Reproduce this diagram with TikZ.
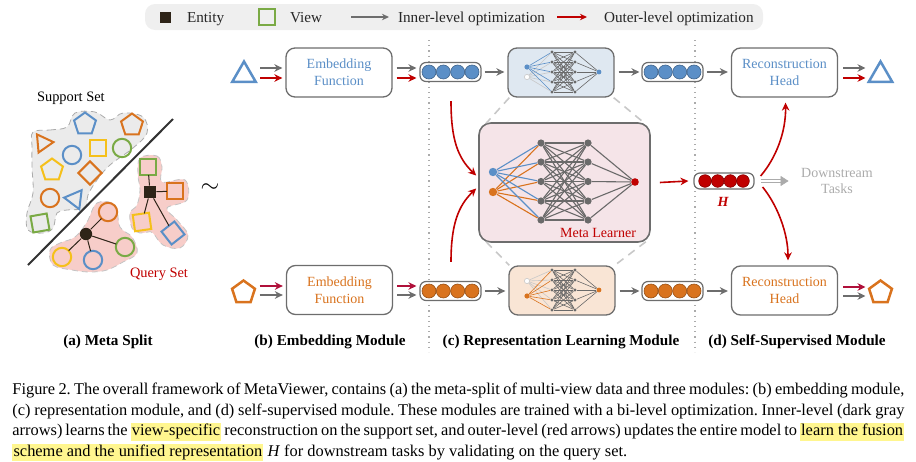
\documentclass[tikz,border=0pt]{standalone}
\usepackage{fontspec}
\setmainfont{Liberation Serif}
\usetikzlibrary{shapes.geometric,arrows.meta,calc}
\definecolor{cblue}{HTML}{5B8FC7}
\definecolor{corange}{HTML}{D9731E}
\definecolor{cgreen}{HTML}{7AAA45}
\definecolor{cyellow}{HTML}{F5C01A}
\definecolor{cred}{HTML}{C00000}
\definecolor{cred2}{HTML}{B0103A}
\definecolor{cgray}{HTML}{6D6D6D}
\definecolor{netgray}{HTML}{6A6A6A}
\definecolor{cdark}{HTML}{2E2418}
\definecolor{legbg}{HTML}{EFEFEF}
\definecolor{blobgray}{HTML}{EBEBEB}
\definecolor{blobpink}{HTML}{F7CDC9}
\definecolor{mlbg}{HTML}{F5E4E8}
\definecolor{topbg}{HTML}{DFE8F1}
\definecolor{botbg}{HTML}{F9E5D5}
\definecolor{hly}{HTML}{FFF68F}
\definecolor{lgray}{HTML}{ABABAB}
\definecolor{ghost}{HTML}{C8C8C8}
\newcommand\nodefont{\fontsize{7}{8.4}\selectfont}
\newcommand\legfont{\fontsize{7.6}{9}\selectfont}
\newcommand\labfont{\fontsize{7.6}{9}\selectfont\bfseries}
\newcommand\capfont{\fontsize{8.2}{10.35}\selectfont}
\newcommand\hlbox[1]{{\setlength{\fboxsep}{0.6pt}\colorbox{hly}{\vphantom{Ay}#1}}}
\tikzset{
 box/.style={draw=cgray, line width=0.65pt, rounded corners=4.5pt, fill=white, minimum width=53pt, minimum height=24.5pt, align=center, font=\nodefont, inner sep=1pt},
 vecbox/.style={draw=cgray, line width=0.6pt, rounded corners=3pt, fill=white, minimum width=30.5pt, minimum height=9.5pt, inner sep=0pt},
 vdot/.style={circle, inner sep=0pt, minimum size=7pt, line width=0.3pt},
 garr/.style={draw=cgray, line width=0.8pt, -{Stealth[length=4pt,width=3.8pt]}},
 rarr/.style={draw=cred, line width=0.8pt, -{Stealth[length=4pt,width=3.8pt]}},
 rarrb/.style={draw=cred2, line width=0.8pt, -{Stealth[length=4pt,width=3.8pt]}},
 shp/.style={line width=1pt, inner sep=0pt, outer sep=0pt},
 circ/.style={shp, circle, minimum size=9.2pt},
 sq/.style={shp, rectangle, minimum size=8.2pt},
 pent/.style={shp, regular polygon, regular polygon sides=5, minimum size=11.5pt},
 trig/.style={shp, regular polygon, regular polygon sides=3, minimum size=11pt},
 blob/.style={draw=lgray, densely dashed, line width=0.4pt},
 hid/.style={circle, inner sep=0pt, minimum size=3.6pt, fill=netgray},
 sdot/.style={circle, inner sep=0pt, minimum size=1.6pt, fill=netgray},
 medge/.style={line width=0.55pt},
 sedge/.style={line width=0.3pt},
 link/.style={draw=cdark, line width=0.5pt},
 conn/.style={draw=ghost, line width=0.8pt, dash pattern=on 4pt off 3pt},
}
\begin{document}
\begin{tikzpicture}[x=0.5pt,y=-0.5pt]
\useasboundingbox (0,0) rectangle (916,461);

% ---------- legend ----------
\node[fill=legbg, rounded corners=5pt, minimum width=309pt, minimum height=13pt, inner sep=0pt] (leg) at (454,17) {};
\node[fill=cdark, minimum size=5.5pt, inner sep=0pt] (lent) at (165.5,17.5) {};
\node[anchor=base west, font=\legfont, text=black!85] (lentt) at (180,22) {Entity};
\node[draw=cgreen, line width=1pt, minimum size=8pt, inner sep=0pt] (lview) at (267,17) {};
\node[anchor=base west, font=\legfont, text=black!85] (lviewt) at (283,22) {View};
\coordinate (li1) at (351,17); \coordinate (li2) at (389,17);
\draw[cgray, line width=0.6pt, -{Stealth[length=3.5pt,width=3.2pt]}] (li1) -- (li2);
\node[anchor=base west, font=\legfont, text=black!85] (linn) at (391,22) {Inner-level optimization};
\coordinate (lo1) at (557,17); \coordinate (lo2) at (587,17);
\draw[cred, line width=0.6pt, -{Stealth[length=3.5pt,width=3.2pt]}] (lo1) -- (lo2);
\node[anchor=base west, font=\legfont, text=black!85] (lout) at (597,22) {Outer-level optimization};

% ---------- dotted separators ----------
\coordinate (d1a) at (429,40); \coordinate (d1b) at (429,352);
\coordinate (d2a) at (695,40); \coordinate (d2b) at (695,352);
\draw[lgray, dotted, line width=0.6pt] (d1a) -- (d1b);
\draw[lgray, dotted, line width=0.6pt] (d2a) -- (d2b);

% ---------- (a) meta split ----------
\node[anchor=base west, font=\fontsize{7.2}{8.6}\selectfont] (supp) at (30,101) {Support Set};
\fill[blobgray] plot[smooth cycle, tension=0.6] coordinates {(33,132) (50,130) (67,127) (75,113) (95,112) (110,120) (123,113) (143,117) (147,133) (133,148) (110,165) (97,180) (88,195) (85,208) (67,210) (57,213) (53,228) (43,233) (28,230) (27,213) (33,193) (32,167) (32,147)};
\draw[blob] plot[smooth cycle, tension=0.6] coordinates {(33,132) (50,130) (67,127) (75,113) (95,112) (110,120) (123,113) (143,117) (147,133) (133,148) (110,165) (97,180) (88,195) (85,208) (67,210) (57,213) (53,228) (43,233) (28,230) (27,213) (33,193) (32,167) (32,147)};
\fill[blobpink] plot[smooth cycle, tension=0.6] coordinates {(140,158) (157,156) (162,167) (162,182) (185,180) (187,200) (167,208) (177,220) (188,235) (180,248) (163,245) (153,233) (148,232) (140,233) (132,228) (130,213) (137,205) (140,190) (138,175)};
\draw[blob, draw=lgray!70] plot[smooth cycle, tension=0.6] coordinates {(140,158) (157,156) (162,167) (162,182) (185,180) (187,200) (167,208) (177,220) (188,235) (180,248) (163,245) (153,233) (148,232) (140,233) (132,228) (130,213) (137,205) (140,190) (138,175)};
\fill[blobpink] plot[smooth cycle, tension=0.6] coordinates {(97,203) (115,205) (120,227) (132,237) (137,253) (123,262) (107,270) (90,272) (72,270) (53,265) (50,250) (60,243) (75,237) (87,222)};
\draw[blob, draw=lgray!70] plot[smooth cycle, tension=0.6] coordinates {(97,203) (115,205) (120,227) (132,237) (137,253) (123,262) (107,270) (90,272) (72,270) (53,265) (50,250) (60,243) (75,237) (87,222)};

\node[pent, draw=cblue] (g1) at (85,124) {};
\node[pent, draw=corange] (g2) at (132,125) {};
\node[trig, draw=corange, rotate=-85, minimum size=10.5pt] (g3) at (43,143) {};
\node[circ, draw=cblue] (g4) at (72,155) {};
\node[sq, draw=cyellow] (g5) at (98,148) {};
\node[circ, draw=cgreen] (g6) at (122,148) {};
\node[pent, draw=cyellow] (g7) at (52,170) {};
\node[sq, draw=corange, rotate=45] (g8) at (90,173) {};
\node[circ, draw=corange] (g9) at (50,198) {};
\node[trig, draw=cblue, rotate=-37] (g10) at (75,199) {};
\node[sq, draw=cgreen, rotate=10] (g11) at (40,223) {};

\coordinate (dg1) at (173,119); \coordinate (dg2) at (28,265);
\draw[black!80, line width=1pt] (dg1) -- (dg2);

\node[fill=cdark, minimum size=6pt, inner sep=0pt] (e1) at (150,192) {};
\node[sq, draw=cgreen] (q1) at (148,167) {};
\node[sq, draw=corange] (q2) at (175,191) {};
\node[sq, draw=cyellow, rotate=8] (q3) at (142,222) {};
\node[sq, draw=cblue, rotate=38] (q4) at (173,233) {};
\draw[link] (e1) -- (q1); \draw[link] (e1) -- (q2); \draw[link] (e1) -- (q3); \draw[link] (e1) -- (q4);

\node[circle, fill=cdark, minimum size=6.2pt, inner sep=0pt] (e2) at (86,234) {};
\node[circ, draw=corange] (r1) at (108,212) {};
\node[circ, draw=cgreen] (r2) at (125,247) {};
\node[circ, draw=cyellow] (r3) at (62,257) {};
\node[circ, draw=cblue] (r4) at (93,260) {};
\draw[link] (e2) -- (r1); \draw[link] (e2) -- (r2); \draw[link] (e2) -- (r3); \draw[link] (e2) -- (r4);

\node[font=\fontsize{7.2}{8.6}\selectfont, text=cred, anchor=base] (qs) at (159,277) {Query Set};
\node[font=\fontsize{12}{14}\selectfont] (tilde) at (210,188) {$\sim$};

% ---------- inputs ----------
\node[trig, draw=cblue, line width=1.25pt, minimum size=13.5pt] (tri1) at (244,75) {};
\node[pent, draw=corange, line width=1.25pt, minimum size=12pt] (pen1) at (243.5,292.5) {};

% ---------- (b) embedding ----------
\node[box, text=cblue] (emb1) at (339,72.5) {Embedding\\Function};
\node[box, text=corange] (emb2) at (339.5,290) {Embedding\\Function};

\draw[garr] ($(tri1)+(16,-7)$) -- ($(emb1.west)+(-3,-4.5)$);
\draw[rarr] ($(tri1)+(16,3)$) -- ($(emb1.west)+(-3,5.5)$);
\draw[rarrb] ($(pen1)+(16,-6.5)$) -- ($(emb2.west)+(-3,-4)$);
\draw[garr] ($(pen1)+(16,2.5)$) -- ($(emb2.west)+(-3,5)$);

% ---------- vectors ----------
\node[vecbox] (v1) at (450.5,72) {};
\node[vecbox] (v2) at (450.5,291) {};
\node[vecbox] (v3) at (672.5,72) {};
\node[vecbox] (v4) at (672.5,291) {};
\foreach \d in {-21.5,-7.2,7.2,21.5} {
  \node[vdot, fill=cblue, draw=cblue!70!black] at ($(v1)+(\d,0)$) {};
  \node[vdot, fill=corange, draw=corange!70!black] at ($(v2)+(\d,0)$) {};
  \node[vdot, fill=cblue, draw=cblue!70!black] at ($(v3)+(\d,0)$) {};
  \node[vdot, fill=corange, draw=corange!70!black] at ($(v4)+(\d,0)$) {};
}
\draw[garr] ($(emb1.east)+(4,-4.5)$) -- ($(v1.west)+(-3,-4)$);
\draw[rarr] ($(emb1.east)+(4,5.5)$) -- ($(v1.west)+(-3,6)$);
\draw[rarrb] ($(emb2.east)+(4,-4)$) -- ($(v2.west)+(-3,-5)$);
\draw[garr] ($(emb2.east)+(4,5)$) -- ($(v2.west)+(-3,4)$);

% ---------- small nets ----------
\node[box, fill=topbg] (netT) at (561,72.5) {};
\node[box, fill=botbg] (netB) at (562,290.5) {};

% top net
\node[circle, inner sep=0pt, minimum size=2.6pt, fill=cblue] (tin) at (527,67) {};
\node[circle, inner sep=0pt, minimum size=2.6pt, draw=ghost, line width=0.3pt, fill=white] (tgh) at (527,77) {};
\node[circle, inner sep=0pt, minimum size=2.4pt, fill=cblue] (tout) at (599,72) {};
\foreach \i/\y in {1/52,2/62,3/72,4/82,5/92} {
  \node[sdot] (ta\i) at (552,\y) {};
  \node[sdot] (tb\i) at (575,\y) {};
}
\foreach \i in {1,...,5} {
  \draw[sedge, ghost] (tgh) -- (ta\i);
}
\foreach \i in {1,...,5} {
  \draw[sedge, cblue] (tin) -- (ta\i);
  \draw[sedge, netgray] (tb\i) -- (tout);
  \foreach \j in {1,...,5} \draw[sedge, netgray] (ta\i) -- (tb\j);
}
% bottom net
\node[circle, inner sep=0pt, minimum size=2.6pt, draw=ghost, line width=0.3pt, fill=white] (bgh) at (527,281) {};
\node[circle, inner sep=0pt, minimum size=2.6pt, fill=corange] (bin) at (527,296) {};
\node[circle, inner sep=0pt, minimum size=2.4pt, fill=corange] (bout) at (599,290) {};
\foreach \i/\y in {1/270,2/280,3/290,4/300,5/310} {
  \node[sdot] (ba\i) at (552,\y) {};
  \node[sdot] (bb\i) at (575,\y) {};
}
\foreach \i in {1,...,5} {
  \draw[sedge, ghost] (bgh) -- (ba\i);
}
\foreach \i in {1,...,5} {
  \draw[sedge, corange] (bin) -- (ba\i);
  \draw[sedge, netgray] (bb\i) -- (bout);
  \foreach \j in {1,...,5} \draw[sedge, netgray] (ba\i) -- (bb\j);
}

\draw[garr] ($(v1.east)+(3,0)$) -- ($(netT.west)+(-3,-0.5)$);
\draw[garr] ($(netT.east)+(4,-0.5)$) -- ($(v3.west)+(-2,0)$);
\draw[garr] ($(v2.east)+(3,0)$) -- ($(netB.west)+(-3,0.5)$);
\draw[garr] ($(netB.east)+(4,0.5)$) -- ($(v4.west)+(-2,0)$);

% ---------- meta learner ----------
\node[draw=cgray, line width=0.8pt, rounded corners=6pt, fill=mlbg, minimum width=85.5pt, minimum height=59.5pt, inner sep=0pt] (ml) at (564.5,182.5) {};
\node[font=\nodefont, text=cred, anchor=base east] (mlt) at (643,237) {Meta Learner};

\draw[conn] ($(netT.south west)+(2,0)$) -- ($(ml.north west)+(8,1)$);
\draw[conn] ($(netT.south east)+(-1,0)$) -- ($(ml.north east)+(-5,2)$);
\draw[conn] ($(ml.south west)+(8,-1)$) -- ($(netB.north west)+(1,0)$);
\draw[conn] ($(ml.south east)+(-5,-1)$) -- ($(netB.north east)+(-1,0)$);

\node[circle, inner sep=0pt, minimum size=4.2pt, fill=cblue] (inb) at (493,172) {};
\node[circle, inner sep=0pt, minimum size=4.2pt, fill=corange] (ino) at (493,192) {};
\node[circle, inner sep=0pt, minimum size=3.8pt, fill=cred] (mout) at (635,182) {};
\foreach \i/\y in {1/143,2/162,3/181.5,4/201,5/220} {
  \node[hid] (ha\i) at (541,\y) {};
  \node[hid] (hb\i) at (588,\y) {};
}
\foreach \i in {1,...,5} {
  \draw[medge, netgray] (hb\i) -- (mout);
  \foreach \j in {1,...,5} \draw[medge, netgray] (ha\i) -- (hb\j);
}
\foreach \i in {1,...,5} {
  \draw[medge, cblue] (inb) -- (ha\i);
  \draw[medge, corange] (ino) -- (ha\i);
}

% red curved arrows into meta learner
\coordinate (c1) at ($(v1.south)+(0.5,19)$);
\coordinate (c2) at ($(v2.north)+(0.5,-19)$);
\draw[rarr] (c1) .. controls (451,140) and (458,158) .. ($(ml.west)+(-2,-7)$);
\draw[rarr] (c2) .. controls (451,225) and (458,206) .. ($(ml.west)+(-2,6)$);

% ---------- H ----------
\node[vecbox, minimum width=30pt, minimum height=8pt, rounded corners=3pt] (vH) at (724,181) {};
\foreach \d in {-19,-6.3,6.3,19}
  \node[vdot, minimum size=6.3pt, fill=cred, draw=cred!70!black] at ($(vH)+(\d,0)$) {};
\node[font=\nodefont\bfseries\itshape, text=cred] (Hl) at (723,202) {H};
\draw[rarr] ($(ml.east)+(9,0)$) -- ($(vH.west)+(-5,0)$);

\draw[draw=lgray, line width=0.35pt, double=white, double distance=1.3pt, -{Triangle[length=4pt,width=5pt,fill=lgray]}] ($(vH.east)+(6,0)$) -- ($(vH.east)+(34,0)$);
\node[font=\nodefont, text=lgray, align=center] (ds) at (837,181) {Downstream\\Tasks};

% ---------- (d) heads ----------
\node[box, text=cblue] (rec1) at (784.5,72.5) {Reconstruction\\Head};
\node[box, text=corange] (rec2) at (784.5,290.5) {Reconstruction\\Head};
\draw[garr] ($(v3.east)+(3,0)$) -- ($(rec1.west)+(-3,-0.5)$);
\draw[garr] ($(v4.east)+(3,0)$) -- ($(rec2.west)+(-3,0.5)$);

\draw[rarr] ($(vH.east)+(6,-5)$) .. controls (776,158) and (786,132) .. ($(rec1.south)+(1,5)$);
\draw[rarr] ($(vH.east)+(8,6)$) .. controls (778,206) and (788,234) .. ($(rec2.north)+(3.5,-5)$);

\node[trig, draw=cblue, line width=1.25pt, minimum size=13.5pt] (tri2) at (880.5,75) {};
\node[pent, draw=corange, line width=1.25pt, minimum size=12pt] (pen2) at (880.5,292.5) {};
\draw[garr] ($(rec1.east)+(5,-4.5)$) -- ($(tri2)+(-15,-7)$);
\draw[rarr] ($(rec1.east)+(5,5.5)$) -- ($(tri2)+(-15,3)$);
\draw[rarrb] ($(rec2.east)+(5,-3.5)$) -- ($(pen2)+(-15,-5.5)$);
\draw[garr] ($(rec2.east)+(5,5.5)$) -- ($(pen2)+(-15,3.5)$);

% ---------- module labels ----------
\node[font=\labfont] (la) at (108,342) {(a) Meta Split};
\node[font=\labfont] (lb) at (330,342) {(b) Embedding Module};
\node[font=\labfont] (lc) at (561,342) {(c) Representation Learning Module};
\node[font=\labfont] (ld) at (797,342) {(d) Self-Supervised Module};

% ---------- caption ----------
\node[anchor=north west, inner sep=0pt, text width=446pt, align=justify, font=\capfont\frenchspacing] (cap) at (12,379.5) {\strut Figure 2. The overall framework of MetaViewer, contains (a) the meta-split of multi-view data and three modules: (b) embedding module,\linebreak
(c) representation module, and (d) self-supervised module. These modules are trained with a bi-level optimization. Inner-level (dark gray\linebreak
arrows) learns the \hlbox{view-specific} reconstruction on the support set, and outer-level (red arrows) updates the entire model to \hlbox{learn the fusion}\linebreak
\hlbox{scheme and the unified representation} \textit{H} for downstream tasks by validating on the query set.};
\end{tikzpicture}
\end{document}
